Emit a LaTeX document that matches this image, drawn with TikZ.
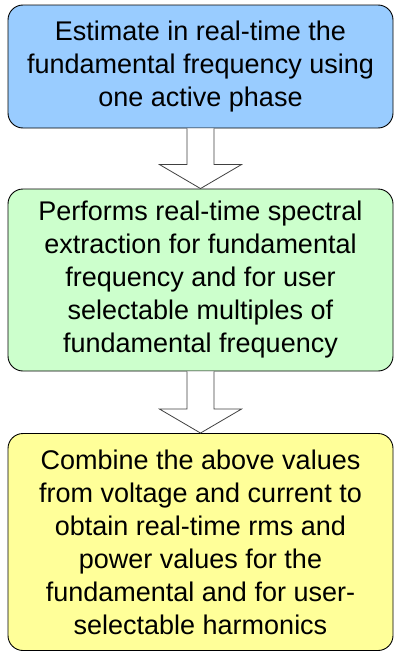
\documentclass[tikz,border=0pt]{standalone}
\usepackage{fontspec}
\setmainfont{Liberation Sans}
\usepackage{tikz}
\usetikzlibrary{calc}

\definecolor{boxblue}{HTML}{99CCFF}
\definecolor{boxgreen}{HTML}{CCFFCC}
\definecolor{boxyellow}{HTML}{FFFF99}

\begin{document}
\begin{tikzpicture}[x=1pt, y=-1pt,
    stage/.style={draw=black, line width=0.9pt, rounded corners=15pt,
      minimum width=385pt, inner sep=0pt, align=center,
      font=\fontsize{27}{33}\selectfont},
    flowarrow/.style={draw=black!75, line width=0.8pt, fill=white}]
    \useasboundingbox (0,0) rectangle (395,653);
    \node[stage, fill=boxblue, minimum height=123pt] (estbox) at (200.5,66.5)
      {Estimate in real-time the\\fundamental frequency using\\one active phase};
    \node[stage, fill=boxgreen, minimum height=182pt] (specbox) at (200.5,280)
      {Performs real-time spectral\\extraction for fundamental\\frequency and for user\\selectable multiples of\\fundamental frequency};
    \node[stage, fill=boxyellow, minimum height=217pt] (combbox) at (200.5,542)
      {Combine the above values\\from voltage and current to\\obtain real-time rms and\\power values for the\\fundamental and for user-\\selectable harmonics};
    \foreach \from/\to in {estbox/specbox, specbox/combbox}
      \draw[flowarrow] ($(\from.south)+(-13.5,0)$) |- ($(\to.north)+(-41,-24)$)
        -- (\to.north) -- ($(\to.north)+(41,-24)$) -| ($(\from.south)+(13.5,0)$);
\end{tikzpicture}
\end{document}
